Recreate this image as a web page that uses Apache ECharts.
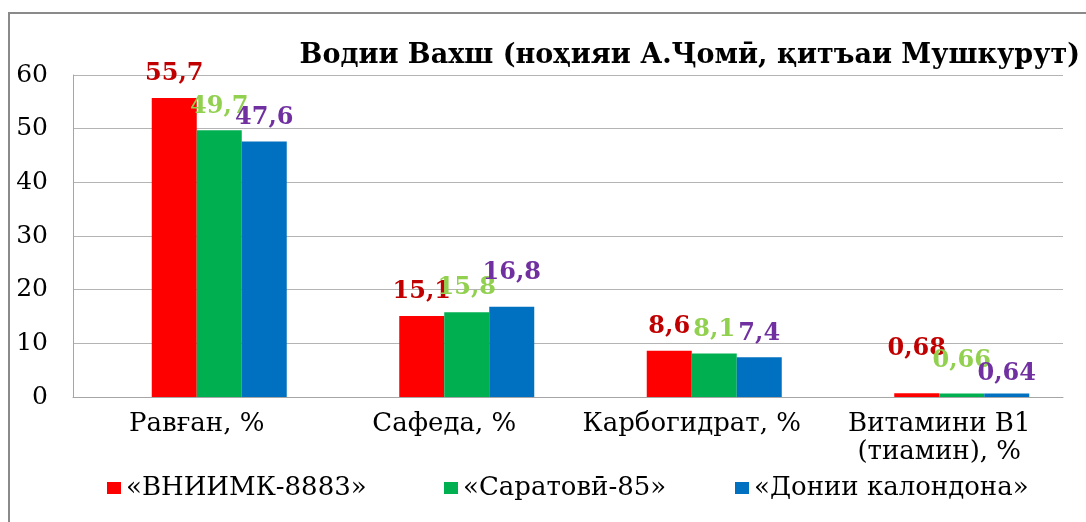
<!DOCTYPE html>
<html>
<head>
<meta charset="utf-8">
<script src="https://cdn.jsdelivr.net/npm/echarts@6/dist/echarts.min.js"></script>
<style>
  html, body { margin: 0; padding: 0; background: #fff; }
  #chart { width: 1086px; height: 522px; }
</style>
</head>
<body>
<div id="chart"></div>
<script>
var categories = ['Равған, %', 'Сафеда, %', 'Карбогидрат, %', 'Витамини В1\n(тиамин), %'];
var seriesNames = ['«ВНИИМК-8883»', '«Саратовӣ-85»', '«Донии калондона»'];
var vniimk = [55.7, 15.1, 8.6, 0.68];
var saratovi = [49.7, 15.8, 8.1, 0.66];
var donii = [47.6, 16.8, 7.4, 0.64];

var barColors = ['#ff0000', '#00b050', '#0070c0'];
var labelColors = ['#c00000', '#92d050', '#7030a0'];
// hand-moved labels in the original (series index -> category index -> y shift)
var labelShift = [
  { 3: -21 },
  { 3: -9 },
  { 1: -10, 3: 4 }
];
var FONT = 'DejaVu Serif';

function fmt(v) {
  return String(v).replace('.', ',');
}

function makeSeries(idx, values) {
  return {
    name: seriesNames[idx],
    type: 'bar',
    barWidth: 45,
    barGap: '0%',
    itemStyle: { color: barColors[idx] },
    label: {
      show: true,
      position: 'top',
      distance: 12,
      fontFamily: FONT,
      fontWeight: 'bold',
      fontSize: 24,
      color: labelColors[idx],
      formatter: function (p) { return fmt(p.value); }
    },
    data: values.map(function (v, i) {
      var s = labelShift[idx][i];
      if (s === undefined) return v;
      return { value: v, label: { offset: [0, s] } };
    })
  };
}

var chart = echarts.init(document.getElementById('chart'), null, { renderer: 'canvas' });

var legendBase = {
  orient: 'horizontal',
  top: 470,
  itemWidth: 14,
  itemHeight: 12,
  icon: 'rect',
  itemGap: 5,
  textStyle: { fontFamily: FONT, fontSize: 26, color: '#000' }
};

chart.setOption({
  animation: false,
  backgroundColor: '#fff',
  graphic: [{
    type: 'rect',
    shape: { x: 9, y: 13, width: 1200, height: 700 },
    style: { fill: 'none', stroke: '#8a8a8a', lineWidth: 2 },
    silent: true
  }],
  title: {
    text: 'Водии Вахш (ноҳияи А.Ҷомӣ, қитъаи Мушкурут)',
    right: 6,
    top: 42,
    padding: 0,
    textStyle: { fontFamily: FONT, fontWeight: 'bold', fontSize: 27, color: '#000' }
  },
  legend: [
    Object.assign({}, legendBase, { left: 102, data: [seriesNames[0]] }),
    Object.assign({}, legendBase, { left: 439, data: [seriesNames[1]] }),
    Object.assign({}, legendBase, { left: 730, data: [seriesNames[2]] })
  ],
  grid: { left: 73, right: 23, top: 75, bottom: 125, containLabel: false },
  xAxis: {
    type: 'category',
    data: categories,
    axisLine: { lineStyle: { color: '#a6a6a6', width: 1 } },
    axisTick: { show: false },
    axisLabel: {
      interval: 0,
      margin: 13,
      fontFamily: FONT,
      fontSize: 26,
      lineHeight: 28,
      color: '#000'
    }
  },
  yAxis: {
    type: 'value',
    min: 0,
    max: 60,
    interval: 10,
    axisLine: { show: true, lineStyle: { color: '#a6a6a6', width: 1 } },
    axisTick: { show: false },
    splitLine: { lineStyle: { color: '#b4b4b4', width: 1 } },
    axisLabel: {
      margin: 25,
      fontFamily: FONT,
      fontSize: 25,
      color: '#000'
    }
  },
  series: [
    // empty first slot, the original leaves it blank
    { name: 'blank', type: 'bar', barWidth: 45, barGap: '0%', data: [null, null, null, null] },
    makeSeries(0, vniimk),
    makeSeries(1, saratovi),
    makeSeries(2, donii)
  ]
});
</script>
</body>
</html>
